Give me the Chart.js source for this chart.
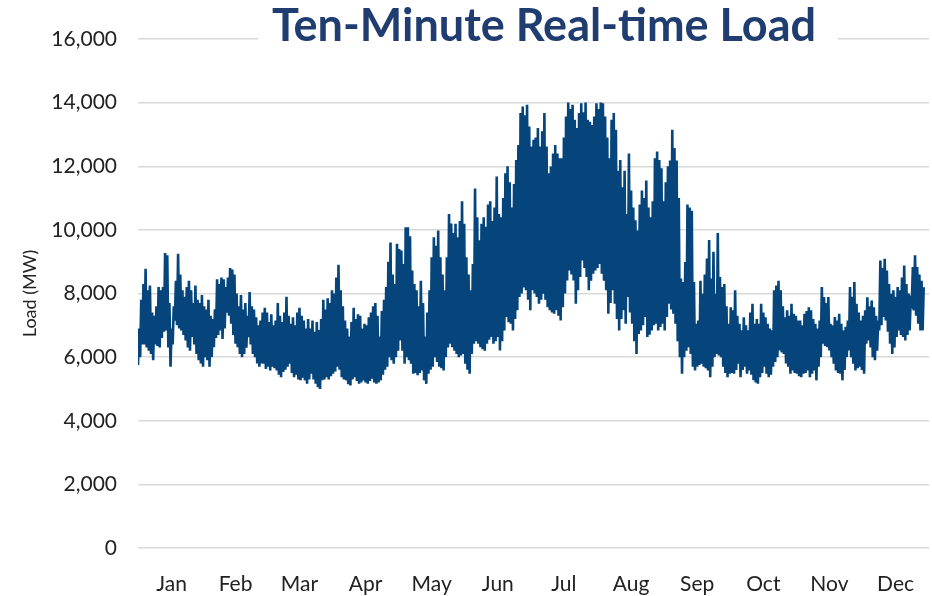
<!DOCTYPE html>
<html>
<head>
<meta charset="utf-8">
<script src="https://cdn.jsdelivr.net/npm/chart.js@4.4.1/dist/chart.umd.min.js"></script>
<style>
  html, body { margin: 0; padding: 0; background: #fff; overflow: hidden; }
  #wrap { width: 938px; height: 596px; position: relative; }
</style>
</head>
<body>
<div id="wrap"><canvas id="c" width="938" height="596"></canvas></div>
<script>
// ---- Data (MW): daily maximum and minimum of the ten-minute load ----
const chartTitle = "Ten-Minute Real-time Load";
const yAxisTitle = "Load (MW)";
const monthLabels = ["Jan","Feb","Mar","Apr","May","Jun","Jul","Aug","Sep","Oct","Nov","Dec"];
const monthLengths = [31,28,31,30,31,30,31,31,30,31,30,31];
const yTickValues = [0,2000,4000,6000,8000,10000,12000,14000,16000];

const dailyHigh = [
 6900,7800,8300,8775,8100,8250,7400,7300,7600,8200,8100,8200,9270,9200,7700,6900,7600,8400,9250,8600,
 8100,7900,8200,8400,8100,7700,8250,7800,7700,7950,7600,7500,7800,7300,7200,7500,8450,8300,8500,8450,
 8200,8500,8800,8750,8600,8000,7600,7950,7500,7700,7300,8050,7600,7500,7250,7000,7150,7400,7550,7400,
 7100,7350,7000,7150,7700,7300,7100,7400,7900,7300,7050,7250,7000,7400,7550,7300,7150,6900,7200,6900,
 7150,6800,7100,6850,7200,7800,7500,7850,7700,8100,8000,8500,8900,8100,7600,7150,6900,6650,7100,7550,
 7200,7350,7300,6900,7050,7000,7250,7400,7600,7700,7300,6650,7450,7800,8200,9000,9600,8600,8300,9560,
 9400,9350,8930,10080,10080,9800,8720,8300,8100,7600,8400,7700,6650,7400,8100,9140,9770,9500,9980,9140,
 8600,8100,9140,10500,10200,9900,10190,9770,10280,10900,10190,9140,8600,8100,8930,11300,10400,9670,10190,10400,
 10100,10800,10900,10280,10700,11680,10500,10400,11000,11780,12000,11500,10700,11440,12200,12670,13670,13880,13600,13930,
 13250,12620,12830,12900,13200,12620,13100,13670,12620,11780,11990,12400,12670,12400,12250,12250,12900,13560,14000,13800,
 13930,13460,13200,13670,13980,13700,14000,13460,13400,13300,13560,13980,13800,14000,13980,13560,12900,12250,13460,13670,
 13150,11860,12200,11340,11860,10500,12400,11240,10700,10300,9980,10800,11240,11000,11550,10700,10400,10900,12250,12460,
 12200,11940,10900,11500,12000,12180,13150,12570,12180,11000,8470,8360,8990,10800,10700,10600,8360,7050,7150,8400,
 7990,8600,9100,9680,8470,9310,7990,9900,8520,8200,8300,7600,7050,7570,7470,8100,7300,7050,6840,7250,
 7000,6840,7400,7680,7050,7200,7050,7680,7400,7250,7050,6900,6840,8100,8250,8400,8100,7600,7250,7470,
 7300,7680,7360,7300,7150,7150,7000,7360,7450,7570,7470,7200,7050,6900,7150,8200,7890,7700,7890,7050,
 7000,7260,7150,7360,7050,6840,6950,7150,8200,7900,8360,7680,7400,7150,7300,7470,7880,7600,7780,7570,
 7300,7150,9040,8800,9090,8720,8300,7990,8100,7900,8200,8100,8500,8880,8300,8000,7780,8830,9200,8830,
 8600,8400,8200
];

const dailyLow = [
 5750,6000,6400,6400,6300,6200,6100,5900,6400,6350,6300,6600,6800,6840,6300,5700,6400,7150,7000,6900,
 6840,6700,6520,6300,6200,6630,6400,6100,5900,5800,5700,6000,5900,5700,6000,6310,6600,6700,6840,6570,
 6900,7400,7300,7050,6700,6420,6310,6100,6000,6100,6300,6630,6400,6100,6000,5800,5700,5800,5790,5630,
 5700,5580,5700,5650,5580,5450,5370,5530,5600,5700,5790,5500,5370,5450,5300,5270,5350,5270,5160,5300,
 5480,5300,5160,5050,5000,5270,5300,5370,5300,5400,5480,5550,5700,5600,5370,5300,5270,5150,5110,5300,
 5370,5250,5160,5200,5270,5200,5160,5250,5320,5200,5160,5200,5270,5450,5600,5700,6000,5900,5790,6000,
 6200,6520,6200,5790,6000,5900,5790,5480,5500,5430,5500,5580,5270,5160,5480,5600,5700,6000,5850,5700,
 5650,5580,6000,6300,6420,6310,6200,6100,6000,6050,6100,5790,5600,5480,6100,6420,6500,6420,6310,6250,
 6200,6420,6550,6630,6420,6500,6630,6210,6500,6840,7260,7100,7050,6840,7200,7470,7890,8000,8190,8100,
 7800,7470,8100,8000,7890,7680,7800,7990,7800,7570,7470,7400,7360,7470,7300,7150,7570,8000,8410,8720,
 8600,8410,7680,8100,8520,9040,8800,8520,8100,8400,8620,8720,8800,8930,8620,8400,8100,7360,7700,8100,
 7680,7200,6840,7200,7470,7050,7890,7400,7050,6500,6100,6730,6840,7000,7260,6630,6700,6840,7000,7050,
 6840,6950,7050,6840,7260,7680,7500,7360,7050,6500,6000,5480,6000,6200,6310,6100,5700,5580,5700,5750,
 5790,5700,5650,5580,5370,5700,6000,6100,6050,6000,5700,5500,5370,5480,5500,5480,5600,5790,5370,5600,
 5700,5480,5580,5450,5270,5200,5160,5370,5500,5700,5480,5370,5450,5700,5850,6000,6210,6150,6100,5800,
 5700,5480,5580,5500,5480,5400,5370,5480,5500,5580,5370,5480,5580,5270,5700,6000,6420,6350,6310,6210,
 6000,5790,5580,5500,5480,5270,5600,6000,6210,6000,5790,5580,5650,5700,5600,5480,6420,6520,6300,6000,
 5900,6200,6840,7000,7260,7150,6800,6420,6100,6300,6630,6840,6700,6630,6520,6700,6840,7680,7470,7300,
 7050,6840,6840
];

// ---- Build the library's data: each day draws low -> high, giving the dense ten-minute trace ----
const points = [];
for (let d = 0; d < dailyHigh.length; d++) {
  points.push({ x: d, y: dailyLow[d] });
  points.push({ x: d + 0.5, y: dailyHigh[d] });
}
const monthMids = [];
let acc = 0;
for (const len of monthLengths) { monthMids.push(acc + len / 2); acc += len; }
const yearDays = acc;

Chart.defaults.font.family = "Lato, 'Open Sans', sans-serif";
Chart.defaults.color = "#222";

const titleBox = {
  id: 'titleBox',
  afterDraw(chart) {
    const ctx = chart.ctx;
    ctx.save();
    ctx.fillStyle = '#ffffff';
    ctx.fillRect(258, 0, 580, 56);
    ctx.font = "bold 45px Lato, 'Open Sans', sans-serif";
    ctx.fillStyle = '#1f3d70';
    ctx.textAlign = 'center';
    ctx.textBaseline = 'alphabetic';
    ctx.fillText(chartTitle, 544, 41);
    ctx.restore();
  }
};

new Chart(document.getElementById('c'), {
  type: 'line',
  data: {
    datasets: [{
      label: 'Load',
      data: points,
      borderColor: '#05457c',
      backgroundColor: '#05457c',
      borderWidth: 2.6,
      pointRadius: 0,
      tension: 0,
      fill: false
    }]
  },
  options: {
    responsive: false,
    animation: false,
    events: [],
    layout: { padding: { top: 39, left: 0, right: 0, bottom: 0 } },
    plugins: { legend: { display: false }, tooltip: { enabled: false }, title: { display: false } },
    scales: {
      x: {
        type: 'linear',
        min: 0,
        max: yearDays,
        grid: { display: false, drawTicks: false },
        border: { display: false },
        afterBuildTicks(scale) { scale.ticks = monthMids.map(v => ({ value: v })); },
        afterFit(scale) { scale.height = 48; },
        ticks: {
          autoSkip: false,
          maxRotation: 0,
          padding: 24,
          font: { size: 21 },
          color: '#222',
          callback(value, index) { return monthLabels[index]; }
        }
      },
      y: {
        min: 0,
        max: 16000,
        afterBuildTicks(scale) { scale.ticks = yTickValues.map(v => ({ value: v })); },
        afterFit(scale) { scale.width = 138; },
        grid: { color: '#d9d9d9', lineWidth: 1.5, drawTicks: false },
        border: { display: false },
        ticks: {
          padding: 21,
          font: { size: 21 },
          color: '#222',
          callback(value) { return value.toLocaleString('en-US'); }
        },
        title: {
          display: true,
          text: yAxisTitle,
          font: { size: 18 },
          color: '#222',
          padding: { top: 19, bottom: 0 }
        }
      }
    }
  },
  plugins: [titleBox]
});
</script>
</body>
</html>
